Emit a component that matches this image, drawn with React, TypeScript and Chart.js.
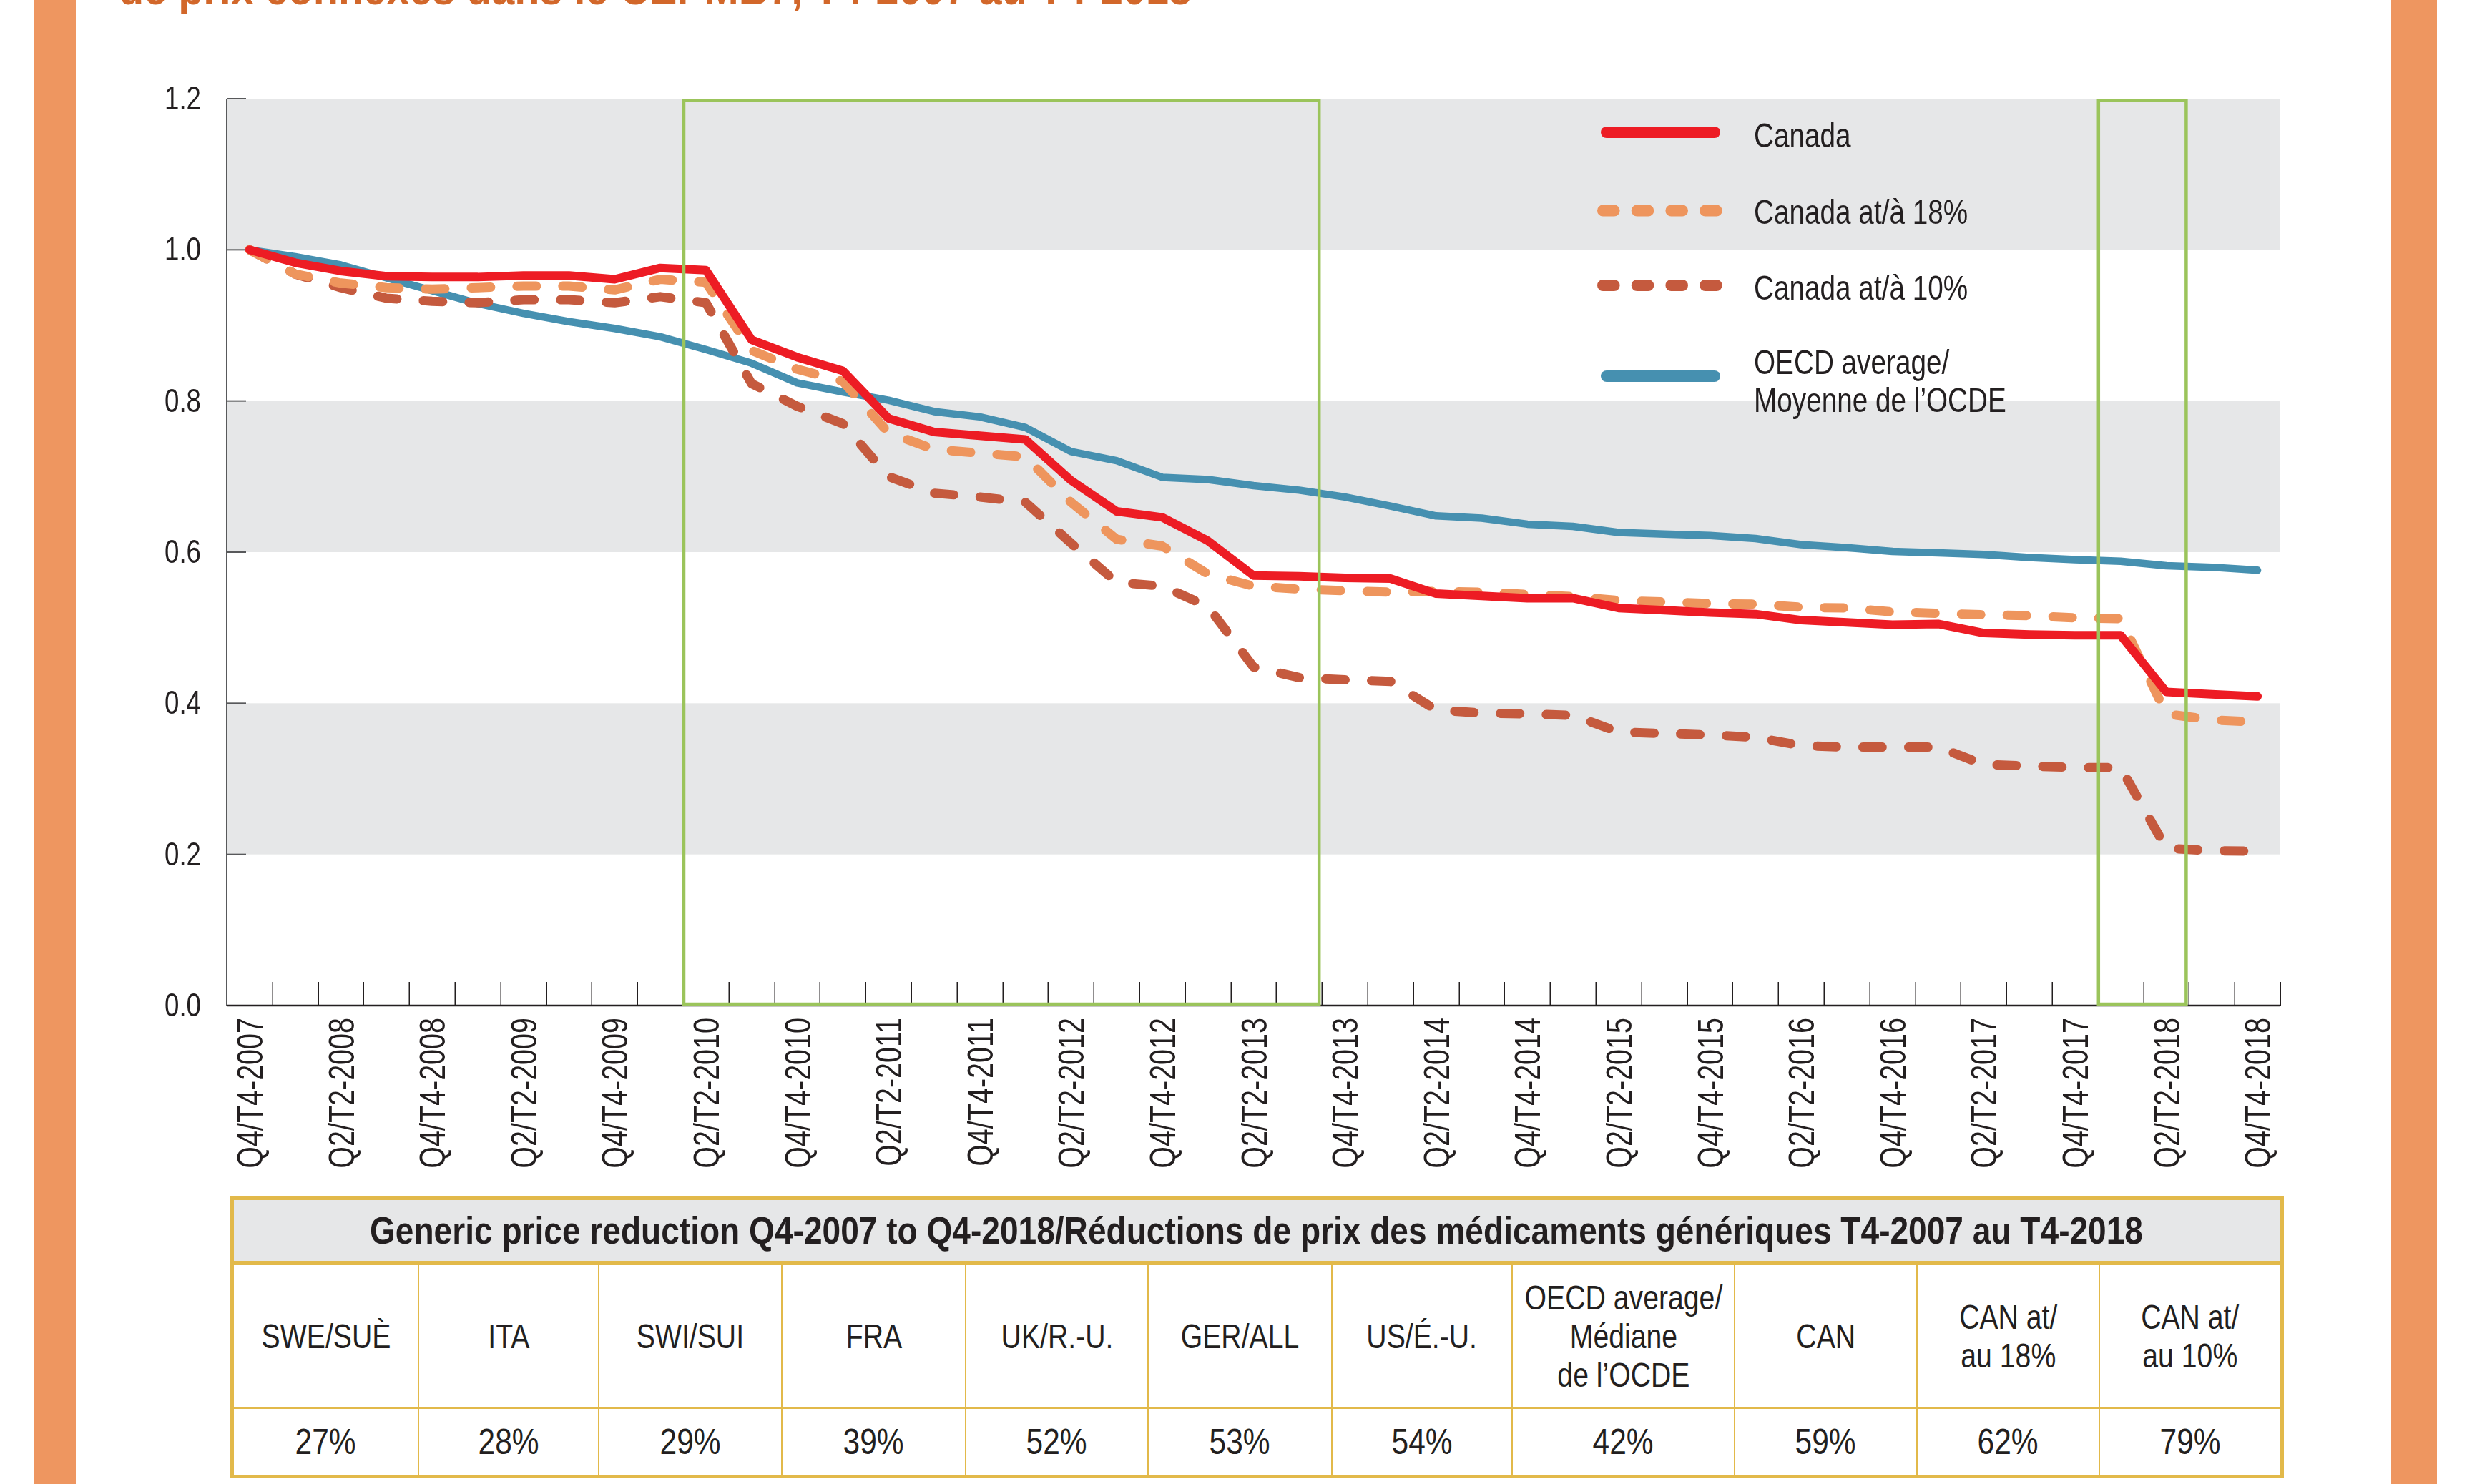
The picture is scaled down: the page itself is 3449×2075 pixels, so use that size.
import React, { useEffect, useLayoutEffect, useRef, useState } from "react";
import { Chart, registerables } from "chart.js";

Chart.register(...registerables);

// ---------------- DATA ----------------
const quarterLabels = [
  "Q4/T4-2007",
  "Q1/T1-2008", "Q2/T2-2008", "Q3/T3-2008", "Q4/T4-2008",
  "Q1/T1-2009", "Q2/T2-2009", "Q3/T3-2009", "Q4/T4-2009",
  "Q1/T1-2010", "Q2/T2-2010", "Q3/T3-2010", "Q4/T4-2010",
  "Q1/T1-2011", "Q2/T2-2011", "Q3/T3-2011", "Q4/T4-2011",
  "Q1/T1-2012", "Q2/T2-2012", "Q3/T3-2012", "Q4/T4-2012",
  "Q1/T1-2013", "Q2/T2-2013", "Q3/T3-2013", "Q4/T4-2013",
  "Q1/T1-2014", "Q2/T2-2014", "Q3/T3-2014", "Q4/T4-2014",
  "Q1/T1-2015", "Q2/T2-2015", "Q3/T3-2015", "Q4/T4-2015",
  "Q1/T1-2016", "Q2/T2-2016", "Q3/T3-2016", "Q4/T4-2016",
  "Q1/T1-2017", "Q2/T2-2017", "Q3/T3-2017", "Q4/T4-2017",
  "Q1/T1-2018", "Q2/T2-2018", "Q3/T3-2018", "Q4/T4-2018",
];

const canadaValues = [
  1.0, 0.983, 0.972, 0.965, 0.964, 0.964, 0.966, 0.966, 0.961, 0.976,
  0.973, 0.881, 0.858, 0.84, 0.777, 0.759, 0.754, 0.749, 0.695, 0.654,
  0.646, 0.615, 0.569, 0.568, 0.566, 0.565, 0.545, 0.542, 0.539, 0.539,
  0.526, 0.523, 0.52, 0.518, 0.51, 0.507, 0.504, 0.505, 0.493, 0.491,
  0.49, 0.49, 0.415, 0.412, 0.409,
];

const canada18Values = [
  1.0, 0.968, 0.956, 0.95, 0.948, 0.95, 0.952, 0.952, 0.947, 0.961,
  0.957, 0.867, 0.842, 0.826, 0.758, 0.736, 0.731, 0.726, 0.666, 0.617,
  0.608, 0.571, 0.555, 0.551, 0.549, 0.547, 0.548, 0.547, 0.544, 0.541,
  0.536, 0.534, 0.532, 0.531, 0.527, 0.526, 0.521, 0.519, 0.517, 0.516,
  0.513, 0.512, 0.386, 0.378, 0.375,
];

const canada10Values = [
  1.0, 0.968, 0.95, 0.936, 0.932, 0.93, 0.934, 0.934, 0.93, 0.938,
  0.93, 0.823, 0.793, 0.77, 0.7, 0.678, 0.673, 0.666, 0.612, 0.56,
  0.555, 0.528, 0.448, 0.434, 0.431, 0.429, 0.391, 0.387, 0.386, 0.384,
  0.362, 0.36, 0.358, 0.355, 0.344, 0.342, 0.342, 0.342, 0.319, 0.317,
  0.315, 0.315, 0.208, 0.205, 0.204,
];

const oecdValues = [
  1.0, 0.991, 0.98, 0.963, 0.946, 0.929, 0.916, 0.905, 0.896, 0.885,
  0.868, 0.85, 0.824, 0.812, 0.801, 0.786, 0.779, 0.765, 0.733, 0.721,
  0.699, 0.696, 0.688, 0.682, 0.673, 0.661, 0.648, 0.645, 0.637, 0.634,
  0.626, 0.624, 0.622, 0.618, 0.61, 0.606, 0.601, 0.599, 0.597, 0.593,
  0.59, 0.588, 0.582, 0.58, 0.576,
];

const seriesLabels = [
  "Canada",
  "Canada at/à 18%",
  "Canada at/à 10%",
  "OECD average/\nMoyenne de l’OCDE",
];

const yMin = 0;
const yMax = 1.2;
const yStep = 0.2;
const shadedBands = [
  [0.2, 0.4],
  [0.6, 0.8],
  [1.0, 1.2],
];

const highlightPeriods = [
  ["Q2/T2-2010", "Q3/T3-2013"],
  ["Q1/T1-2018", "Q2/T2-2018"],
];

const titleText = "de prix connexes dans le CEPMB7, T4-2007 au T4-2018";

const tableTitle =
  "Generic price reduction Q4-2007 to Q4-2018/Réductions de prix des médicaments génériques T4-2007 au T4-2018";
const tableColumns = [
  "SWE/SUÈ",
  "ITA",
  "SWI/SUI",
  "FRA",
  "UK/R.-U.",
  "GER/ALL",
  "US/É.-U.",
  "OECD average/\nMédiane\nde l’OCDE",
  "CAN",
  "CAN at/\nau 18%",
  "CAN at/\nau 10%",
];
const tableValues = ["27%", "28%", "29%", "39%", "52%", "53%", "54%", "42%", "59%", "62%", "79%"];

// ---------------- STYLE / LAYOUT ----------------
const SANS = "'Liberation Sans', Arial, sans-serif";
const TEXT = "#231F20";
const GOLD = "#E2B94A";
const BAND = "#E6E7E8";
const GREEN = "#9BC45B";
const SIDE = "#EE9660";
const seriesColors = ["#ED1C24", "#EE955D", "#C55A3E", "#4690B0"];

const W = 3449;
const H = 2075;
const CANVAS_H = 1660;
const PLOT = { left: 317, top: 138, right: 3188, bottom: 1406 };
const colWidths = [257, 252, 256, 257, 255, 257, 252, 311, 255, 255, 254];

const LEGEND = {
  sampleX0: 2238,
  sampleX1: 2405,
  textX: 2452,
  lineY: [185, 294.5, 399, 526],
  baselines: [[206], [312.5], [418.5], [523, 576]],
};

function condText(ctx: any, text: string, x: number, y: number, size: number, sx: number, align: string, rot = 0) {
  ctx.save();
  ctx.translate(x, y);
  if (rot) ctx.rotate(rot);
  ctx.scale(sx, 1);
  ctx.font = `${size}px ${SANS}`;
  ctx.fillStyle = TEXT;
  ctx.textAlign = align;
  ctx.textBaseline = "alphabetic";
  ctx.fillText(text, 0, 0);
  ctx.restore();
}

const decorPlugin = {
  id: "decor",
  beforeDatasetsDraw(chart: any) {
    const { ctx, chartArea: a, scales } = chart;
    const x = scales.x;
    const y = scales.y;
    ctx.save();
    ctx.fillStyle = BAND;
    for (const [lo, hi] of shadedBands) {
      const yt = y.getPixelForValue(hi);
      const yb = y.getPixelForValue(lo);
      ctx.fillRect(a.left, yt, a.right - a.left, yb - yt);
    }
    const half = (x.getPixelForValue(1) - x.getPixelForValue(0)) / 2;
    ctx.strokeStyle = TEXT;
    ctx.lineWidth = 1.5;
    for (let i = 0; i < quarterLabels.length; i++) {
      const px = Math.round(x.getPixelForValue(i) + half) + 0.25;
      ctx.beginPath();
      ctx.moveTo(px, a.bottom);
      ctx.lineTo(px, a.bottom - 33);
      ctx.stroke();
    }
    ctx.strokeStyle = "#58595B";
    ctx.lineWidth = 2;
    for (const t of y.ticks) {
      const py = y.getPixelForValue(t.value);
      ctx.beginPath();
      ctx.moveTo(a.left, py);
      ctx.lineTo(a.left + 27, py);
      ctx.stroke();
    }
    ctx.beginPath();
    ctx.moveTo(a.left, a.top);
    ctx.lineTo(a.left, a.bottom);
    ctx.stroke();
    ctx.strokeStyle = TEXT;
    ctx.lineWidth = 2.5;
    ctx.beginPath();
    ctx.moveTo(a.left, a.bottom);
    ctx.lineTo(a.right, a.bottom);
    ctx.stroke();
    ctx.restore();
  },
  afterDatasetsDraw(chart: any) {
    const { ctx, chartArea: a, scales } = chart;
    const x = scales.x;
    const y = scales.y;
    const half = (x.getPixelForValue(1) - x.getPixelForValue(0)) / 2;
    ctx.save();
    ctx.strokeStyle = GREEN;
    ctx.lineWidth = 4.5;
    for (const [from, to] of highlightPeriods) {
      const i0 = quarterLabels.indexOf(from);
      const i1 = quarterLabels.indexOf(to);
      const xl = x.getPixelForValue(i0) - half + 1;
      const xr = x.getPixelForValue(i1) + half - 4;
      ctx.strokeRect(xl, a.top + 2.5, xr - xl, a.bottom - a.top - 4.5);
    }
    ctx.restore();

    // axis labels (condensed)
    quarterLabels.forEach((lab, i) => {
      if (i % 2 !== 0) return;
      const px = x.getPixelForValue(i);
      condText(ctx, lab, px + 18, a.bottom + 17, 50, 0.79, "right", -Math.PI / 2);
    });
    for (const t of y.ticks) {
      const py = y.getPixelForValue(t.value);
      condText(ctx, Number(t.value).toFixed(1), a.left - 36, py + 15, 47, 0.78, "right");
    }

    // legend
    ctx.save();
    chart.data.datasets.forEach((ds: any, i: number) => {
      const ly = LEGEND.lineY[i];
      ctx.strokeStyle = ds.borderColor;
      ctx.lineWidth = 16;
      ctx.lineCap = "round";
      if (ds.borderDash && ds.borderDash.length) {
        ctx.setLineDash([15.6, 32.1]);
        ctx.beginPath();
        ctx.moveTo(LEGEND.sampleX0 + 3, ly);
        ctx.lineTo(LEGEND.sampleX1 - 5, ly);
        ctx.stroke();
      } else {
        ctx.setLineDash([]);
        ctx.beginPath();
        ctx.moveTo(LEGEND.sampleX0 + 8, ly);
        ctx.lineTo(LEGEND.sampleX1 - 8, ly);
        ctx.stroke();
      }
      ctx.setLineDash([]);
      const lines = String(ds.label).split("\n");
      lines.forEach((ln: string, k: number) => {
        condText(ctx, ln, LEGEND.textX, LEGEND.baselines[i][k], 49, 0.79, "left");
      });
    });
    ctx.restore();
  },
};

function LineChart() {
  const ref = useRef<HTMLCanvasElement>(null);
  useEffect(() => {
    if (!ref.current) return;
    const dashed = [27, 37];
    const chart = new Chart(ref.current, {
      type: "line",
      data: {
        labels: quarterLabels,
        datasets: [
          {
            label: seriesLabels[0],
            data: canadaValues,
            borderColor: seriesColors[0],
            borderWidth: 12,
            borderJoinStyle: "round",
            borderCapStyle: "round",
            pointRadius: 0,
          },
          {
            label: seriesLabels[1],
            data: canada18Values,
            borderColor: seriesColors[1],
            borderWidth: 13,
            borderDash: dashed,
            borderJoinStyle: "round",
            borderCapStyle: "round",
            pointRadius: 0,
          },
          {
            label: seriesLabels[2],
            data: canada10Values,
            borderColor: seriesColors[2],
            borderWidth: 13,
            borderDash: dashed,
            borderJoinStyle: "round",
            borderCapStyle: "round",
            pointRadius: 0,
          },
          {
            label: seriesLabels[3],
            data: oecdValues,
            borderColor: seriesColors[3],
            borderWidth: 10.5,
            borderJoinStyle: "round",
            borderCapStyle: "round",
            pointRadius: 0,
          },
        ],
      },
      options: {
        responsive: false,
        maintainAspectRatio: false,
        animation: false,
        events: [],
        layout: {
          padding: { left: 0, top: PLOT.top, right: W - PLOT.right, bottom: 0 },
        },
        plugins: {
          legend: { display: false },
          tooltip: { enabled: false },
          title: { display: false },
        },
        scales: {
          x: {
            type: "category",
            offset: true,
            grid: { display: false, drawTicks: false },
            border: { display: false },
            ticks: { display: false, autoSkip: false },
            afterFit: (scale: any) => {
              scale.height = CANVAS_H - PLOT.bottom;
            },
          },
          y: {
            min: yMin,
            max: yMax,
            grid: { display: false, drawTicks: false },
            border: { display: false },
            ticks: { display: false, stepSize: yStep },
            afterFit: (scale: any) => {
              scale.width = PLOT.left;
            },
          },
        },
      },
      plugins: [decorPlugin],
    } as any);
    return () => chart.destroy();
  }, []);
  return (
    <canvas
      ref={ref}
      width={W}
      height={CANVAS_H}
      style={{ position: "absolute", left: 0, top: 0, width: W, height: CANVAS_H }}
    />
  );
}

function FitText({ width, style, children }: { width: number; style: any; children: any }) {
  const ref = useRef<HTMLSpanElement>(null);
  const [s, setS] = useState(1);
  useLayoutEffect(() => {
    if (!ref.current) return;
    const w = ref.current.getBoundingClientRect().width;
    if (w > 0) setS(width / w);
  }, [width]);
  return (
    <span
      ref={ref}
      style={{
        display: "inline-block",
        whiteSpace: "nowrap",
        transform: `scaleX(${s})`,
        transformOrigin: "left center",
        ...style,
      }}
    >
      {children}
    </span>
  );
}

function Cell({ text, width, first, fontSize, sx }: { text: string; width: number; first: boolean; fontSize: number; sx: number }) {
  return (
    <div
      style={{
        width,
        boxSizing: "border-box",
        borderLeft: first ? "none" : `2.5px solid ${GOLD}`,
        display: "flex",
        alignItems: "center",
        justifyContent: "center",
        textAlign: "center",
        fontFamily: SANS,
        fontSize,
        lineHeight: "54px",
        color: TEXT,
        overflow: "visible",
      }}
    >
      <span
        style={{
          display: "inline-block",
          whiteSpace: "pre",
          transform: `scaleX(${sx})`,
          transformOrigin: "center center",
          flexShrink: 0,
        }}
      >
        {text}
      </span>
    </div>
  );
}

function DataTable() {
  return (
    <div
      style={{
        position: "absolute",
        left: 322,
        top: 1673,
        width: 2871,
        height: 394,
        boxSizing: "border-box",
        border: `5px solid ${GOLD}`,
        background: "#fff",
      }}
    >
      <div style={{ height: 85, background: BAND, position: "relative" }}>
        <div style={{ position: "absolute", left: 517 - 327, top: 12 }}>
          <FitText
            width={2479}
            style={{ fontFamily: SANS, fontWeight: "bold", fontSize: 54, lineHeight: "60px", color: TEXT }}
          >
            {tableTitle}
          </FitText>
        </div>
      </div>
      <div style={{ height: 6, background: GOLD }} />
      <div style={{ height: 198, display: "flex" }}>
        {tableColumns.map((c, i) => (
          <Cell key={i} text={c} width={colWidths[i]} first={i === 0} fontSize={49} sx={0.8} />
        ))}
      </div>
      <div style={{ height: 3, background: GOLD }} />
      <div style={{ height: 92, display: "flex" }}>
        {tableValues.map((c, i) => (
          <Cell key={i} text={c} width={colWidths[i]} first={i === 0} fontSize={50} sx={0.85} />
        ))}
      </div>
    </div>
  );
}

export default function App() {
  return (
    <div
      style={{
        position: "absolute",
        left: 0,
        top: 0,
        width: W,
        height: H,
        overflow: "hidden",
        background: "#fff",
      }}
    >
      <div style={{ position: "absolute", left: 48, top: 0, width: 58, height: H, background: SIDE }} />
      <div style={{ position: "absolute", left: 3343, top: 0, width: 64, height: H, background: SIDE }} />
      <LineChart />
      <div style={{ position: "absolute", left: 166, top: -48 }}>
        <FitText
          width={1500}
          style={{ fontFamily: SANS, fontWeight: "bold", fontSize: 64, lineHeight: "64px", color: "#D2672A" }}
        >
          {titleText}
        </FitText>
      </div>
      <DataTable />
    </div>
  );
}
